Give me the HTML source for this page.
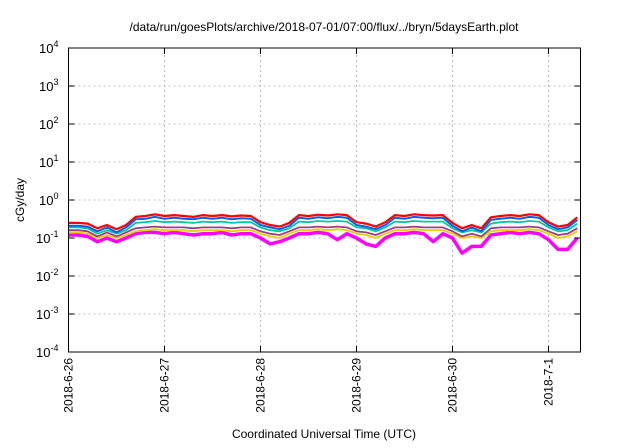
<!DOCTYPE html>
<html><head><meta charset="utf-8"><style>
body{margin:0;background:#fff}
svg{display:block;font-family:"Liberation Sans",sans-serif}
</style></head><body>
<svg id="c" width="640" height="448">
<text x="324" y="31" font-size="12" text-anchor="middle">/data/run/goesPlots/archive/2018-07-01/07:00/flux/../bryn/5daysEarth.plot</text>
<text x="324" y="438" font-size="12" text-anchor="middle">Coordinated Universal Time (UTC)</text>
<text x="0" y="0" font-size="12" text-anchor="middle" transform="translate(24,200) rotate(-90)">cGy/day</text>
<g id="grid"></g><g id="series"></g>
<rect x="68.5" y="48" width="512" height="304" fill="none" stroke="#000" stroke-width="1"/>
<g id="axes"></g>
</svg>
<script>
const dayLabels=["2018-6-26","2018-6-27","2018-6-28","2018-6-29","2018-6-30","2018-7-1"];
const yExps=[-4,-3,-2,-1,0,1,2,3,4];
const tStep=0.1;
const red=[0.25,0.25,0.24,0.18,0.22,0.17,0.22,0.36,0.38,0.42,0.38,0.40,0.38,0.36,0.40,0.38,0.40,0.37,0.39,0.38,0.26,0.22,0.20,0.25,0.40,0.38,0.41,0.39,0.42,0.40,0.26,0.24,0.20,0.26,0.40,0.38,0.42,0.40,0.39,0.40,0.25,0.18,0.22,0.18,0.35,0.38,0.40,0.38,0.42,0.40,0.26,0.20,0.22,0.35];
const blue=[0.21,0.21,0.20,0.15,0.19,0.14,0.19,0.31,0.32,0.36,0.32,0.34,0.32,0.31,0.34,0.32,0.34,0.31,0.33,0.32,0.22,0.19,0.17,0.21,0.34,0.32,0.35,0.33,0.36,0.34,0.22,0.20,0.17,0.22,0.34,0.32,0.36,0.34,0.33,0.34,0.21,0.15,0.19,0.15,0.30,0.32,0.34,0.32,0.36,0.34,0.22,0.17,0.19,0.30];
const teal=[0.19,0.19,0.18,0.13,0.16,0.13,0.16,0.25,0.26,0.28,0.26,0.27,0.26,0.25,0.27,0.26,0.27,0.25,0.26,0.26,0.19,0.16,0.15,0.18,0.27,0.26,0.28,0.27,0.28,0.27,0.19,0.18,0.15,0.19,0.27,0.26,0.28,0.27,0.27,0.27,0.18,0.14,0.16,0.14,0.24,0.26,0.27,0.26,0.28,0.27,0.19,0.15,0.16,0.24];
const purple=[0.16,0.16,0.15,0.11,0.14,0.11,0.14,0.18,0.19,0.20,0.19,0.19,0.19,0.18,0.19,0.19,0.19,0.18,0.19,0.19,0.15,0.13,0.12,0.15,0.19,0.19,0.20,0.19,0.20,0.19,0.15,0.14,0.12,0.15,0.19,0.19,0.20,0.19,0.19,0.19,0.15,0.11,0.13,0.11,0.18,0.19,0.19,0.19,0.20,0.19,0.15,0.12,0.13,0.18];
const yellow=[0.14,0.14,0.13,0.10,0.12,0.10,0.12,0.15,0.16,0.17,0.16,0.16,0.16,0.15,0.16,0.16,0.16,0.15,0.16,0.16,0.13,0.11,0.10,0.13,0.16,0.16,0.17,0.16,0.17,0.16,0.13,0.12,0.10,0.13,0.16,0.16,0.17,0.16,0.16,0.16,0.13,0.10,0.11,0.10,0.15,0.16,0.16,0.16,0.17,0.16,0.13,0.10,0.11,0.15];
const magenta=[0.12,0.12,0.11,0.08,0.10,0.08,0.10,0.13,0.14,0.14,0.13,0.14,0.13,0.12,0.13,0.13,0.14,0.12,0.13,0.13,0.10,0.07,0.08,0.10,0.13,0.13,0.14,0.13,0.09,0.13,0.10,0.07,0.06,0.10,0.13,0.13,0.14,0.13,0.08,0.13,0.10,0.04,0.06,0.06,0.12,0.13,0.14,0.13,0.14,0.13,0.09,0.05,0.05,0.10];
const NS='http://www.w3.org/2000/svg';
const X0=68.5,X1=580.5,Y0=352,Y1=48,DAYS=5.333;
const xs=d=>X0+d/DAYS*(X1-X0);
const ys=v=>Y0-(Math.log10(v)+4)/8*(Y0-Y1);
function mk(tag,attrs,parent){const e=document.createElementNS(NS,tag);for(const k in attrs)e.setAttribute(k,attrs[k]);parent.appendChild(e);return e;}
const grid=document.getElementById('grid'),axes=document.getElementById('axes'),ser=document.getElementById('series');
yExps.forEach(p=>{const y=ys(Math.pow(10,p));
 if(p>-4&&p<4){const g=mk('line',{x1:X0,x2:X1,y1:y,y2:y,stroke:'#aaa','stroke-dasharray':'2,3','stroke-width':0.8},grid);
 
 }
 const t1=mk('line',{x1:X0,x2:X0+6,y1:y,y2:y,stroke:'#000'},axes);
 
 
 const t2=mk('line',{x1:X1,x2:X1-6,y1:y,y2:y,stroke:'#000'},axes);
 
 
 const tx=mk('text',{x:X0-10,y:y+5,'font-size':13,'text-anchor':'end'},axes);
 
 
 tx.innerHTML='10<tspan dy="-6" font-size="9">'+p+'</tspan>';
});
dayLabels.forEach((lab,i)=>{const x=xs(i);
 if(i>0){const g=mk('line',{x1:x,x2:x,y1:Y0,y2:Y1,stroke:'#aaa','stroke-dasharray':'2,3','stroke-width':0.8},grid);
 
 }
 const t=mk('line',{x1:x,x2:x,y1:Y0,y2:Y0-6,stroke:'#000'},axes);
 
 
 const tt=mk('line',{x1:x,x2:x,y1:Y1,y2:Y1+6,stroke:'#000'},axes);
 
 
 const tx=mk('text',{x:0,y:0,'font-size':12,'text-anchor':'end',transform:'translate('+(x+4)+','+(Y0+6)+') rotate(-90)'},axes);
 
 
 tx.textContent=lab;
});
const seriesList=[[magenta,'#ff00ff',3.5,'series-magenta'],[yellow,'#e8d000',1.8,'series-yellow'],[purple,'#a03c8c',1.8,'series-purple'],[teal,'#00c8a0',1.8,'series-teal'],[red,'#ff0000',2.2,'series-red'],[blue,'#1060e0',2,'series-blue']];
seriesList.forEach(([arr,col,w,name])=>{
 const pts=arr.map((v,i)=>xs(Math.min(i*tStep,DAYS)).toFixed(1)+','+ys(v).toFixed(1)).join(' ');
 const p=mk('polyline',{points:pts,fill:'none',stroke:col,'stroke-width':w,'stroke-linejoin':'round'},ser);
 
 
});
</script>
</body></html>
